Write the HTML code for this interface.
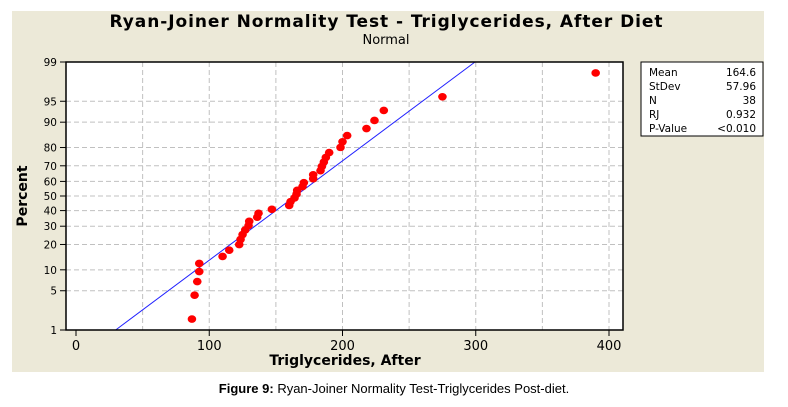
<!DOCTYPE html>
<html><head><meta charset="utf-8"><style>
html,body{margin:0;padding:0;background:#fff;width:788px;height:407px;overflow:hidden}
</style></head><body>
<svg id="chart" width="788" height="407" xmlns="http://www.w3.org/2000/svg" font-family="'DejaVu Sans', Verdana, sans-serif">
<rect x="12" y="11" width="752" height="361" fill="#ECE9D8"/>
<text x="386" y="27" text-anchor="middle" font-size="17" font-weight="bold" textLength="553" fill="#000">Ryan-Joiner Normality Test - Triglycerides, After Diet</text>
<text x="386" y="44" text-anchor="middle" font-size="13" fill="#000">Normal</text>
<rect x="66" y="62" width="557" height="268" fill="#fff"/>
<g id="grid"></g>
<g id="axes"></g>
<g id="marks"></g>
<rect x="66" y="62" width="557" height="268" fill="none" stroke="#000" stroke-width="1.5"/>
<text x="345" y="365" text-anchor="middle" font-size="14" font-weight="bold">Triglycerides, After</text>
<text transform="translate(27,196) rotate(-90)" text-anchor="middle" font-size="14" font-weight="bold">Percent</text>
<g>
<rect x="641" y="62" width="122" height="74" fill="#fff" stroke="#000" stroke-width="1"/>
<g font-size="10.5" id="stats"></g>
</g>
<text x="394" y="393" text-anchor="middle" font-family="'Liberation Sans Narrow','Liberation Sans',sans-serif" font-size="13"><tspan font-weight="bold">Figure 9:</tspan> Ryan-Joiner Normality Test-Triglycerides Post-diet.</text>
</svg>
<script>
const xTicks = [0, 100, 200, 300, 400];
const yTicks = [1, 5, 10, 20, 30, 40, 50, 60, 70, 80, 90, 95, 99];
const values = [87, 89, 91, 92.5, 92.5, 110, 115, 122.5, 123.5, 125, 127, 129.5, 130, 136, 137, 147, 160, 161, 164, 165.5, 166, 170, 171, 178, 178, 183.5, 184.5, 186, 187.5, 190, 198.5, 200, 203.5, 218, 224, 231, 275, 390];
const meanVal = 164.6;
const sdVal = 57.96;
const statLabels = ["Mean", "StDev", "N", "RJ", "P-Value"];
const statValues = ["164.6", "57.96", "38", "0.932", "<0.010"];

const NS = "http://www.w3.org/2000/svg";
function el(tag, attrs, parent) { const e = document.createElementNS(NS, tag); for (const k in attrs) e.setAttribute(k, attrs[k]); parent.appendChild(e); return e; }
function xs(v) { return 76 + v * 1.3325; }
function invNorm(p) {
  const a=[-39.6968302866538,220.946098424521,-275.928510446969,138.357751867269,-30.6647980661472,2.50662827745924];
  const b=[-54.4760987982241,161.585836858041,-155.698979859887,66.8013118877197,-13.2806815528857];
  const c=[-0.00778489400243029,-0.322396458041136,-2.40075827716184,-2.54973253934373,4.37466414146497,2.93816398269878];
  const d=[0.00778469570904146,0.32246712907004,2.445134137143,3.75440866190742];
  const pl=0.02425;let q,r;
  if(p<pl){q=Math.sqrt(-2*Math.log(p));return (((((c[0]*q+c[1])*q+c[2])*q+c[3])*q+c[4])*q+c[5])/((((d[0]*q+d[1])*q+d[2])*q+d[3])*q+1);}
  if(p<=1-pl){q=p-0.5;r=q*q;return (((((a[0]*r+a[1])*r+a[2])*r+a[3])*r+a[4])*r+a[5])*q/(((((b[0]*r+b[1])*r+b[2])*r+b[3])*r+b[4])*r+1);}
  q=Math.sqrt(-2*Math.log(1-p));return -(((((c[0]*q+c[1])*q+c[2])*q+c[3])*q+c[4])*q+c[5])/((((d[0]*q+d[1])*q+d[2])*q+d[3])*q+1);
}
const zMax = invNorm(0.99);
function yz(z) { return 196 - z * (268 / (2 * zMax)); }
function yp(pct) { return yz(invNorm(pct / 100)); }

const grid = document.getElementById('grid'), axes = document.getElementById('axes'), marks = document.getElementById('marks');
[50,100,150,200,250,300,350,400].forEach(v => {
  const g = el('line', {x1: xs(v), x2: xs(v), y1: 62, y2: 330, stroke: '#c0c0c0', 'stroke-dasharray': '5,3'}, grid);
  
  
});
yTicks.forEach(t => {
  const y = yp(t);
  if (t !== 1 && t !== 99) {
    const g = el('line', {x1: 66, x2: 623, y1: y, y2: y, stroke: '#c0c0c0', 'stroke-dasharray': '5,3'}, grid);
    
    
  }
  el('line', {x1: 60, x2: 66, y1: y, y2: y, stroke: '#000'}, axes);
  const tx = el('text', {x: 57, y: y + 4, 'text-anchor': 'end', 'font-size': 10.5}, axes);
  tx.textContent = t;
  
  
});
xTicks.forEach(t => {
  el('line', {x1: xs(t), x2: xs(t), y1: 330, y2: 336, stroke: '#000'}, axes);
  const tx = el('text', {x: xs(t), y: 350, 'text-anchor': 'middle', 'font-size': 13}, axes);
  tx.textContent = t;
  
  
});
const xa = meanVal + sdVal * (-zMax), xb = meanVal + sdVal * zMax;
const fl = el('line', {x1: xs(xa), y1: yz(-zMax), x2: xs(xb), y2: yz(zMax), stroke: '#2020ff', 'stroke-width': 1}, marks);


const n = values.length;
values.forEach((v, i) => {
  const p = (i + 1 - 0.375) / (n + 0.25);
  const c = el('ellipse', {cx: xs(v), cy: yz(invNorm(p)), rx: 4.3, ry: 3.8, fill: '#ff0000'}, marks);
  
  
});
const st = document.getElementById('stats');
statLabels.forEach((l, i) => {
  const a = el('text', {x: 649, y: 76 + i * 14}, st);
  a.textContent = l;
  
  
  const b = el('text', {x: 756, y: 76 + i * 14, 'text-anchor': 'end'}, st);
  b.textContent = statValues[i];
  
  
});
</script>
</body></html>
